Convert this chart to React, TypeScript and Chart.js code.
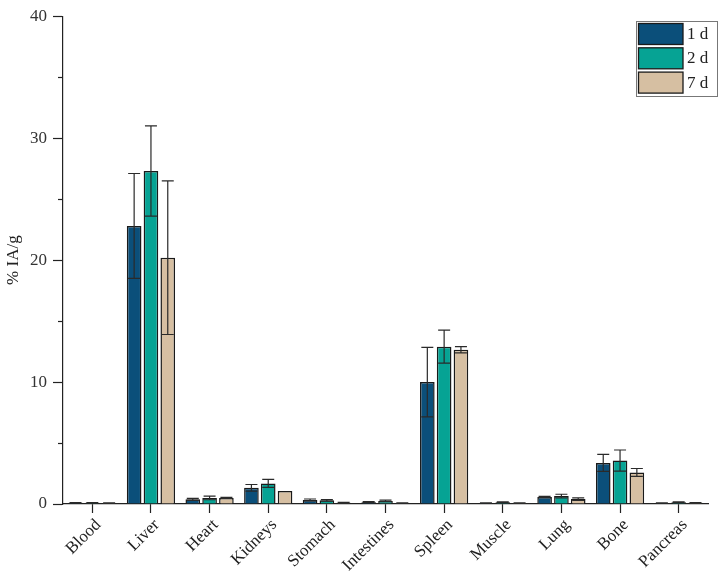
import React, { useEffect, useRef } from "react";
import { Chart, registerables } from "chart.js";

Chart.register(...registerables);

const categories = ["Blood", "Liver", "Heart", "Kidneys", "Stomach", "Intestines", "Spleen", "Muscle", "Lung", "Bone", "Pancreas"];
const seriesLabels = ["1 d", "2 d", "7 d"];
const values1d = [0.1, 22.8, 0.38, 1.33, 0.33, 0.15, 10.0, 0.08, 0.57, 3.37, 0.08];
const values2d = [0.1, 27.3, 0.5, 1.69, 0.3, 0.25, 12.9, 0.15, 0.65, 3.56, 0.15];
const values7d = [0.08, 20.2, 0.5, 1.06, 0.1, 0.07, 12.65, 0.08, 0.4, 2.59, 0.1];
const errors1d = [0.02, 4.3, 0.08, 0.27, 0.08, 0.04, 2.85, 0.02, 0.05, 0.7, 0.02];
const errors2d = [0.02, 3.7, 0.15, 0.33, 0.07, 0.06, 1.35, 0.03, 0.15, 0.87, 0.03];
const errors7d = [0.01, 6.3, 0.05, 0.0, 0.03, 0.02, 0.25, 0.02, 0.1, 0.32, 0.02];
const colors = ["#0B4F7A", "#06A394", "#D6BFA2"];
const yTicksMajor = [0, 10, 20, 30, 40];
const yTicksMinor = [5, 15, 25, 35];

const FONT = "'Liberation Serif', serif";

const errorBarPlugin = {
  id: "errorBars",
  afterDatasetsDraw(chart: any) {
    const ctx = chart.ctx;
    const y = chart.scales.y;
    ctx.save();
    ctx.strokeStyle = "#2a2a2a";
    ctx.lineWidth = 1.2;
    chart.data.datasets.forEach((ds: any, di: number) => {
      const meta = chart.getDatasetMeta(di);
      meta.data.forEach((bar: any, i: number) => {
        const v = ds.data[i];
        const e = ds.errors[i];
        if (!e) return;
        const top = y.getPixelForValue(v + e);
        const bot = y.getPixelForValue(Math.max(0, v - e));
        const x = bar.x;
        const cap = 6;
        ctx.beginPath();
        ctx.moveTo(x, top);
        ctx.lineTo(x, bot);
        ctx.moveTo(x - cap, top);
        ctx.lineTo(x + cap, top);
        ctx.moveTo(x - cap, bot);
        ctx.lineTo(x + cap, bot);
        ctx.stroke();
      });
    });
    ctx.restore();
  },
};

const minorTickPlugin = {
  id: "minorTicks",
  afterDraw(chart: any) {
    const ctx = chart.ctx;
    const y = chart.scales.y;
    const left = chart.chartArea.left;
    ctx.save();
    ctx.strokeStyle = "#222";
    ctx.lineWidth = 1.2;
    yTicksMinor.forEach((t) => {
      const py = Math.round(y.getPixelForValue(t)) + 0.5;
      ctx.beginPath();
      ctx.moveTo(left - 5, py);
      ctx.lineTo(left, py);
      ctx.stroke();
    });
    ctx.restore();
  },
};

const boxLegendPlugin = {
  id: "boxLegend",
  afterDraw(chart: any) {
    const ctx = chart.ctx;
    const x0 = 636;
    const y0 = 21;
    const w = 81;
    const h = 75;
    ctx.save();
    ctx.fillStyle = "#fff";
    ctx.fillRect(x0, y0, w, h);
    ctx.strokeStyle = "#777";
    ctx.lineWidth = 1;
    ctx.strokeRect(x0 + 0.5, y0 + 0.5, w, h);
    chart.data.datasets.forEach((ds: any, i: number) => {
      const sy = y0 + 2.5 + i * 24.3;
      ctx.fillStyle = ds.backgroundColor;
      ctx.fillRect(x0 + 2.5, sy, 44.5, 21);
      ctx.strokeStyle = "#1a1a1a";
      ctx.lineWidth = 1.3;
      ctx.strokeRect(x0 + 2.5, sy, 44.5, 21);
      ctx.fillStyle = "#222";
      ctx.font = "17px " + FONT;
      ctx.textBaseline = "middle";
      ctx.textAlign = "left";
      ctx.fillText(ds.label, x0 + 51, sy + 11);
    });
    ctx.restore();
  },
};

export default function App() {
  const ref = useRef<HTMLCanvasElement | null>(null);

  useEffect(() => {
    document.body.style.margin = "0";
    const canvas = ref.current;
    if (!canvas) return;
    const valueSets = [values1d, values2d, values7d];
    const errorSets = [errors1d, errors2d, errors7d];
    const chart = new Chart(canvas, {
      type: "bar",
      data: {
        labels: categories,
        datasets: seriesLabels.map((label, i) => ({
          label,
          data: valueSets[i],
          errors: errorSets[i],
          backgroundColor: colors[i],
          borderColor: "#1a1a1a",
          borderWidth: 1.5,
          categoryPercentage: 0.86,
          barPercentage: 0.87,
        })) as any,
      },
      options: {
        animation: false,
        responsive: false,
        maintainAspectRatio: false,
        layout: { padding: { top: 13, right: 14, left: 0, bottom: 0 } },
        plugins: {
          legend: { display: false },
          tooltip: { enabled: false },
        },
        scales: {
          x: {
            offset: true,
            grid: {
              offset: false,
              drawOnChartArea: false,
              tickLength: 9,
              tickColor: "#222",
              tickWidth: 1.2,
            },
            border: { color: "#222", width: 1.2 },
            ticks: {
              color: "#222",
              font: { family: FONT, size: 17 },
              maxRotation: 45,
              minRotation: 45,
              padding: 2,
              labelOffset: 6,
              autoSkip: false,
            },
            afterFit(scale: any) {
              scale.height = 74;
            },
          },
          y: {
            min: 0,
            max: 40,
            afterBuildTicks(scale: any) {
              scale.ticks = yTicksMajor.map((v) => ({ value: v }));
            },
            grid: {
              drawOnChartArea: false,
              tickLength: 10,
              tickColor: "#222",
              tickWidth: 1.2,
            },
            border: { color: "#222", width: 1.2 },
            ticks: {
              color: "#333",
              font: { family: FONT, size: 17 },
              padding: 6,
            },
            title: {
              display: true,
              text: "% IA/g",
              color: "#222",
              font: { family: FONT, size: 17 },
              padding: { top: 3, bottom: 4 },
            },
            afterFit(scale: any) {
              scale.width = 63;
            },
          },
        },
      },
      plugins: [errorBarPlugin, minorTickPlugin, boxLegendPlugin],
    } as any);
    return () => chart.destroy();
  }, []);

  return (
    <div style={{ width: 722, height: 578 }}>
      <canvas ref={ref} width={722} height={578} style={{ width: 722, height: 578, display: "block" }} />
    </div>
  );
}
